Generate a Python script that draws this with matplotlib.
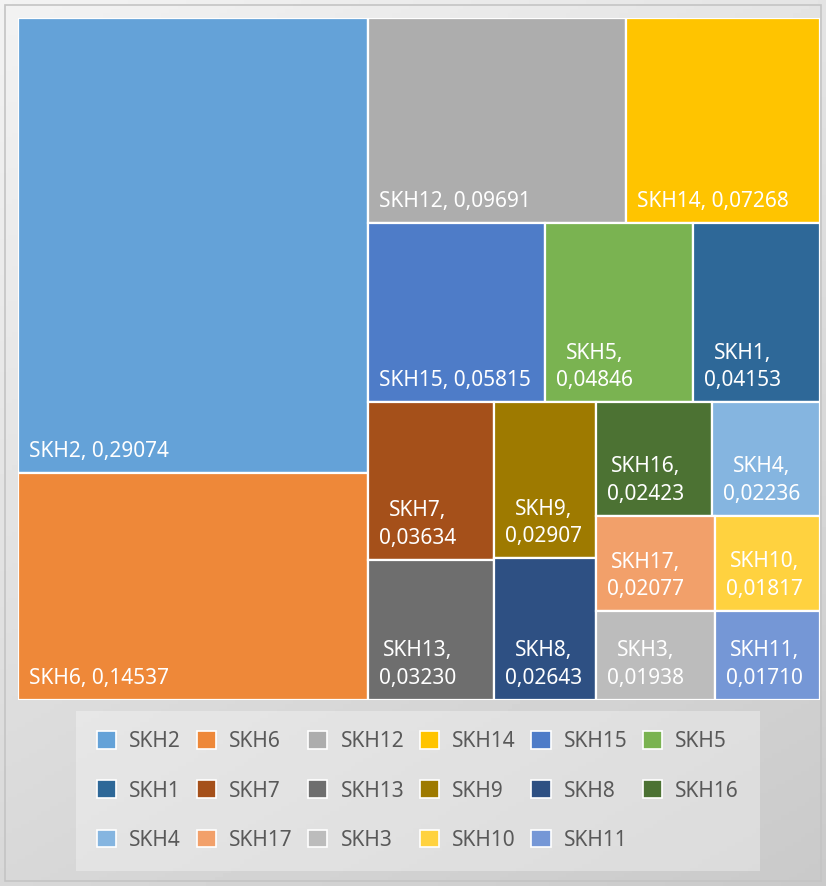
import numpy as np
import matplotlib.pyplot as plt
from matplotlib.patches import Rectangle, Patch

plt.rcParams['font.family'] = ['Noto Sans', 'DejaVu Sans']

# data (Excel treemap, order as in the sheet)
names = ['SKH2', 'SKH6', 'SKH12', 'SKH14', 'SKH15', 'SKH5', 'SKH1', 'SKH7', 'SKH13',
         'SKH9', 'SKH8', 'SKH16', 'SKH4', 'SKH17', 'SKH3', 'SKH10', 'SKH11']
values = [0.29074, 0.14537, 0.09691, 0.07268, 0.05815, 0.04846, 0.04153, 0.03634, 0.03230,
          0.02907, 0.02643, 0.02423, 0.02236, 0.02077, 0.01938, 0.01817, 0.01710]
colors = ['#64a2d8', '#ee8839', '#adadad', '#ffc400', '#4e7cc8', '#7ab351', '#2e6898',
          '#a5501a', '#6e6e6e', '#9e7a00', '#2e5083', '#4c7233', '#85b5e0', '#f2a06a',
          '#bcbcbc', '#ffd23f', '#7597d6']


# squarified treemap layout
def layout_column(sizes, x, y, dx, dy):
    width = sum(sizes) / dy
    rects = []
    for s in sizes:
        rects.append((x, y, width, s / width))
        y += s / width
    return rects


def layout_row(sizes, x, y, dx, dy):
    height = sum(sizes) / dx
    rects = []
    for s in sizes:
        rects.append((x, y, s / height, height))
        x += s / height
    return rects


def layout(sizes, x, y, dx, dy):
    if dx >= dy:
        return layout_column(sizes, x, y, dx, dy)
    return layout_row(sizes, x, y, dx, dy)


def leftover(sizes, x, y, dx, dy):
    if dx >= dy:
        w = sum(sizes) / dy
        return x + w, y, dx - w, dy
    h = sum(sizes) / dx
    return x, y + h, dx, dy - h


def worst(sizes, x, y, dx, dy):
    return max(max(w / h, h / w) for _, _, w, h in layout(sizes, x, y, dx, dy))


def squarify(sizes, x, y, dx, dy):
    if len(sizes) == 0:
        return []
    if len(sizes) == 1:
        return layout(sizes, x, y, dx, dy)
    i = 1
    while i < len(sizes) and worst(sizes[:i], x, y, dx, dy) >= worst(sizes[:i + 1], x, y, dx, dy):
        i += 1
    lx, ly, ldx, ldy = leftover(sizes[:i], x, y, dx, dy)
    return layout(sizes[:i], x, y, dx, dy) + squarify(sizes[i:], lx, ly, ldx, ldy)


W_PX, H_PX = 826, 886
fig = plt.figure(figsize=(W_PX / 100, H_PX / 100), dpi=100)

# light gray gradient background like the Excel chart area
bg = fig.add_axes([0, 0, 1, 1], zorder=-5)
gx, gy = np.meshgrid(np.linspace(0, 1, 200), np.linspace(0, 1, 200))
grad = 0.95 - 0.16 * (0.35 * gx + 0.65 * gy)
bg.imshow(grad, cmap='gray', vmin=0, vmax=1, aspect='auto', extent=[0, 1, 1, 0])
bg.add_patch(Rectangle((5 / W_PX, 5 / H_PX), 1 - 10 / W_PX, 1 - 10 / H_PX,
                       fill=False, edgecolor='#c4c4c4', lw=1.2))
bg.set_xlim(0, 1)
bg.set_ylim(1, 0)
bg.axis('off')

ax = fig.add_axes([18 / W_PX, 1 - 700 / H_PX, 802 / W_PX, 682 / H_PX])
pos = ax.get_position()
W = pos.width * W_PX
H = pos.height * H_PX
ax.set_xlim(0, W)
ax.set_ylim(H, 0)
ax.axis('off')

total = sum(values)
sizes = [v * W * H / total for v in values]
rects = squarify(sizes, 0, 0, W, H)

renderer = fig.canvas.get_renderer()
pad = 11
for (x, y, w, h), n, v, c in zip(rects, names, values, colors):
    ax.add_patch(Rectangle((x, y), w, h, facecolor=c, edgecolor='white', lw=1.6))
    num = ('%.5f' % v).replace('.', ',')
    t = ax.annotate(n + ', ' + num, xy=(x, y + h), xytext=(pad * 0.72, 8),
                    textcoords='offset points', ha='left', va='bottom',
                    color='white', fontsize=15, multialignment='center')
    if t.get_window_extent(renderer).width + 1.4 * pad > w:
        t.set_text(n + ',\n' + num)
        t.set_linespacing(1.4)

# legend, filled row by row like Excel
ncol = 6
order = [i for c in range(ncol) for i in range(c, len(names), ncol)]
handles = [Patch(facecolor=colors[i], edgecolor='white', lw=1.2) for i in order]
labels = [names[i] for i in order]
leg = fig.legend(handles, labels, ncols=ncol, loc='center', mode='expand',
                 bbox_to_anchor=(76 / W_PX, 1 - 870 / H_PX, 684 / W_PX, 158 / H_PX),
                 bbox_transform=fig.transFigure, fontsize=15, labelcolor='#595959',
                 frameon=True, fancybox=False, facecolor='white', edgecolor='none',
                 framealpha=0.32, borderpad=1.0, labelspacing=1.35, borderaxespad=0,
                 handlelength=0.93, handleheight=0.93, handletextpad=0.63,
                 columnspacing=1.0)

fig.savefig('out.png', dpi=100)
